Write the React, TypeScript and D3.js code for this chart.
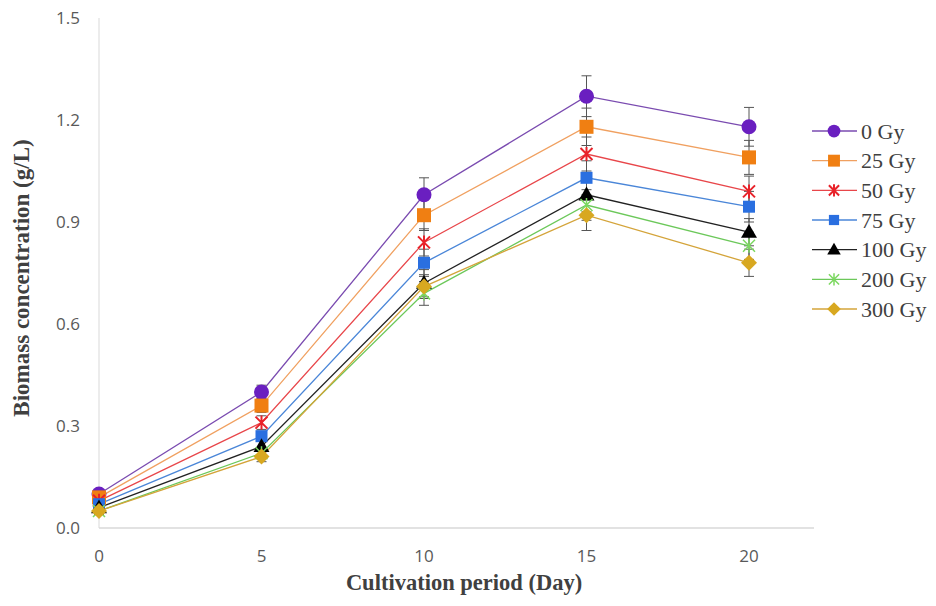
import React, { useRef, useEffect } from "react";
import * as d3 from "d3";

const days = [0, 5, 10, 15, 20];
const yTicks = [0, 0.3, 0.6, 0.9, 1.2, 1.5];
const seriesNames = ["0 Gy", "25 Gy", "50 Gy", "75 Gy", "100 Gy", "200 Gy", "300 Gy"];
const g0 = [0.1, 0.4, 0.98, 1.27, 1.18];
const g25 = [0.09, 0.36, 0.92, 1.18, 1.09];
const g50 = [0.08, 0.31, 0.84, 1.1, 0.99];
const g75 = [0.07, 0.27, 0.78, 1.03, 0.945];
const g100 = [0.06, 0.24, 0.72, 0.98, 0.87];
const g200 = [0.05, 0.22, 0.69, 0.95, 0.83];
const g300 = [0.05, 0.21, 0.71, 0.92, 0.78];
const e0 = [0.01, 0.02, 0.05, 0.06, 0.057];
const e25 = [0.01, 0.02, 0.045, 0.055, 0.05];
const e50 = [0.01, 0.02, 0.04, 0.05, 0.045];
const e75 = [0.01, 0.015, 0.04, 0.05, 0.045];
const e100 = [0.01, 0.015, 0.04, 0.05, 0.04];
const e200 = [0.01, 0.015, 0.035, 0.045, 0.04];
const e300 = [0.01, 0.015, 0.035, 0.045, 0.04];
const lineColors = ["#7a4bb0", "#f0a060", "#e8464a", "#4a86d8", "#222222", "#6cc85a", "#d4a43a"];
const markerColors = ["#6a1fc0", "#f07f12", "#e8222a", "#2a6fe0", "#000000", "#7cd860", "#d8a820"];
const markerTypes = ["circle", "square", "xstar", "square", "triangle", "star", "diamond"];

const App = () => {
  const svgRef = useRef<SVGSVGElement>(null);
  useEffect(() => {
    const svg = d3.select(svgRef.current);
    svg.selectAll("*").remove();

    const values = [g0, g25, g50, g75, g100, g200, g300];
    const errors = [e0, e25, e50, e75, e100, e200, e300];

    const x = d3.scaleLinear().domain([0, 22]).range([99, 814]);
    const y = d3.scaleLinear().domain([0, 1.5]).range([528, 18]);

    // axes lines
    svg.append("line").attr("x1", 99).attr("x2", 99).attr("y1", y(1.5)).attr("y2", y(0))
      .attr("stroke", "#d9d9d9").attr("stroke-width", 1);
    svg.append("line").attr("x1", 99).attr("x2", 814).attr("y1", y(0)).attr("y2", y(0))
      .attr("stroke", "#d9d9d9").attr("stroke-width", 1.5);

    svg.selectAll(".ytick").data(yTicks).enter().append("text")
      .attr("x", 80).attr("y", (d) => y(d)).attr("dy", "0.35em")
      .attr("text-anchor", "end").attr("font-family", "Open Sans, sans-serif")
      .attr("font-size", 17).attr("fill", "#595959").text((d) => d.toFixed(1));

    svg.selectAll(".xtick").data(days).enter().append("text")
      .attr("x", (d) => x(d)).attr("y", 562)
      .attr("text-anchor", "middle").attr("font-family", "Open Sans, sans-serif")
      .attr("font-size", 17).attr("fill", "#595959").text((d) => d);

    svg.append("text").attr("x", 464).attr("y", 590).attr("text-anchor", "middle")
      .attr("font-family", "Liberation Serif, serif").attr("font-weight", "bold")
      .attr("font-size", 22.5).attr("fill", "#404040").text("Cultivation period (Day)");
    svg.append("text").attr("transform", "translate(29,278) rotate(-90)")
      .attr("text-anchor", "middle")
      .attr("font-family", "Liberation Serif, serif").attr("font-weight", "bold")
      .attr("font-size", 23).attr("fill", "#404040").text("Biomass concentration (g/L)");

    const drawMarker = (g: any, type: string, color: string, cx: number, cy: number, k = 1) => {
      if (type === "circle") {
        g.append("circle").attr("cx", cx).attr("cy", cy).attr("r", 7.5 * k).attr("fill", color);
      } else if (type === "square") {
        const s = (color === "#2a6fe0" ? 12 : 14) * k;
        g.append("rect").attr("x", cx - s / 2).attr("y", cy - s / 2).attr("width", s).attr("height", s).attr("fill", color);
      } else if (type === "triangle") {
        g.append("path").attr("d", d3.symbol(d3.symbolTriangle, 110 * k * k)()).attr("transform", `translate(${cx},${cy + 1})`).attr("fill", color);
      } else if (type === "diamond") {
        const r = 8 * k;
        g.append("path").attr("d", `M${cx},${cy - r}L${cx + r},${cy}L${cx},${cy + r}L${cx - r},${cy}Z`).attr("fill", color);
      } else {
        const r = 6 * k;
        const p = `M${cx - r},${cy - r}L${cx + r},${cy + r}M${cx - r},${cy + r}L${cx + r},${cy - r}M${cx},${cy - r - 1}L${cx},${cy + r + 1}`;
        g.append("path").attr("d", p).attr("stroke", color).attr("stroke-width", type === "xstar" ? 2 : 1.5).attr("fill", "none");
      }
    };

    // error bars
    values.forEach((vals, i) => {
      const g = svg.append("g");
      vals.forEach((v, j) => {
        const e = errors[i][j];
        const cx = x(days[j]);
        g.append("line").attr("x1", cx).attr("x2", cx).attr("y1", y(v - e)).attr("y2", y(v + e))
          .attr("stroke", "#555").attr("stroke-width", 1);
        [v - e, v + e].forEach((w) => {
          g.append("line").attr("x1", cx - 5).attr("x2", cx + 5).attr("y1", y(w)).attr("y2", y(w))
            .attr("stroke", "#555").attr("stroke-width", 1);
        });
      });
    });

    const line = d3.line<number>().x((d, j) => x(days[j])).y((d) => y(d));
    values.forEach((vals, i) => {
      svg.append("path").attr("d", line(vals)).attr("fill", "none")
        .attr("stroke", lineColors[i]).attr("stroke-width", 1.3);
    });
    values.forEach((vals, i) => {
      const g = svg.append("g");
      vals.forEach((v, j) => drawMarker(g, markerTypes[i], markerColors[i], x(days[j]), y(v)));
    });

    // legend
    const ly = d3.scaleLinear().domain([0, 6]).range([131, 309]);
    seriesNames.forEach((name, i) => {
      const g = svg.append("g");
      const yy = ly(i);
      g.append("line").attr("x1", 812).attr("x2", 857).attr("y1", yy).attr("y2", yy)
        .attr("stroke", lineColors[i]).attr("stroke-width", 1.3);
      drawMarker(g, markerTypes[i], markerColors[i], 834, yy, 0.85);
      g.append("text").attr("x", 861).attr("y", yy).attr("dy", "0.35em")
        .attr("font-family", "Liberation Serif, serif").attr("font-size", 22)
        .attr("fill", "#404040").text(name);
    });
  }, []);

  return (
    <svg ref={svgRef} width={936} height={606} style={{ position: "absolute", left: 0, top: 0, background: "#fff" }}></svg>
  );
};

export default App;
